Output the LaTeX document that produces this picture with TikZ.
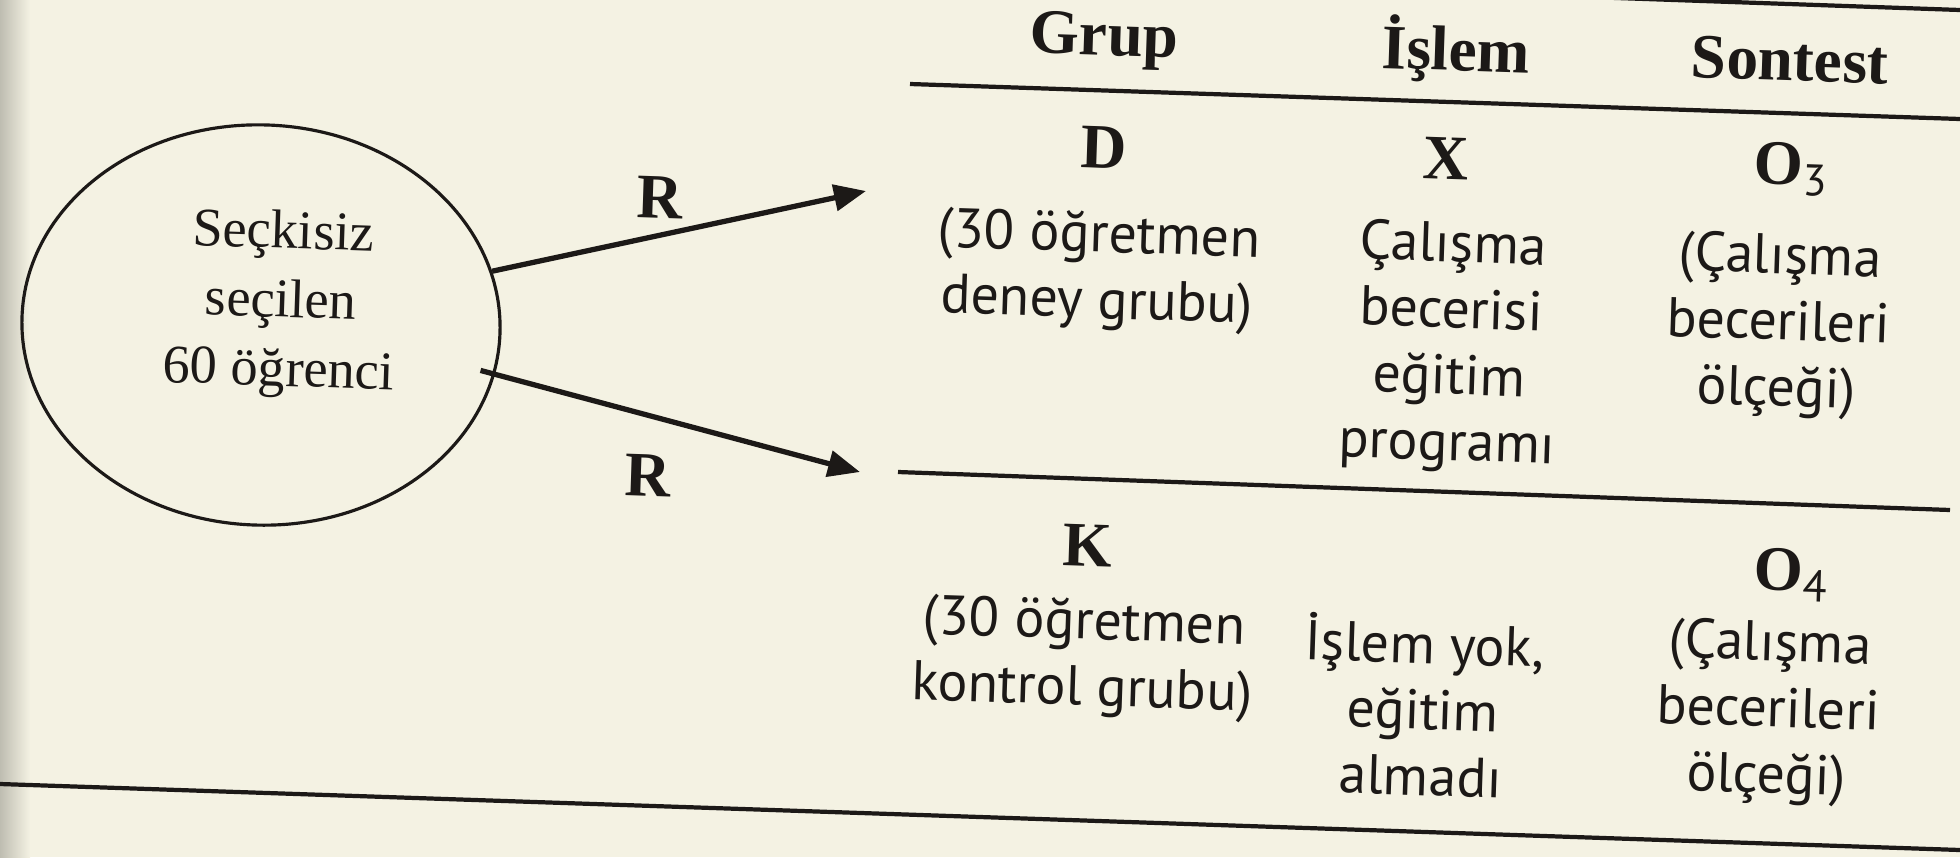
\documentclass[tikz,border=0pt]{standalone}
\usepackage{fontspec}
\setmainfont{Liberation Serif}
\newfontfamily\bodyfont{PT Sans}
\usetikzlibrary{shapes.geometric,arrows.meta}
\definecolor{paper}{HTML}{F4F2E3}
\definecolor{ink}{HTML}{1C1917}

\begin{document}
\begin{tikzpicture}[x=0.01cm,y=-0.01cm,
  every node/.style={text=ink, inner sep=0pt, rotate=-1.9},
  head/.style={font=\fontsize{18}{20}\selectfont\bfseries},
  sym/.style={font=\fontsize{18}{20}\selectfont\bfseries},
  pooltext/.style={font=\fontsize{15.5}{19.6}\selectfont, align=center},
  cell/.style={font=\bodyfont\fontsize{15.9}{18.8}\selectfont, align=center},
  rule/.style={draw=ink, line width=1.2pt},
  flow/.style={draw=ink, line width=1.5pt, -{Triangle[length=0.32cm,width=0.26cm]}},
]
\useasboundingbox (0,0) rectangle (1960,857);
\fill[paper] (0,0) rectangle (1960,857);
\shade[left color=black!22!paper, right color=paper] (0,0) rectangle (30,857);

% sample pool
\node[draw=ink, line width=0.9pt, ellipse, minimum width=4.78cm, minimum height=4.0cm] (pool) at (261,325) {};
\node[pooltext] (pooltxt) at (281,304) {Seçkisiz\\seçilen\\60 öğrenci};

% random assignment arrows
\coordinate (toD) at (866,191);
\coordinate (toK) at (860,472);
\draw[flow] (pool.15) -- (toD);
\draw[flow, shorten <=-0.15cm] (pool.-10) -- (toK);
\node[sym] (r1) at (660,198) {R};
\node[sym] (r2) at (648,476) {R};

% table rules
\draw[rule] (1560,-4) -- (1960,10);
\draw[rule] (910,84) -- (1960,119);
\draw[rule] (898,472) -- (1950,510);
\draw[rule] (0,784) -- (1960,850);

% header
\node[head] (hGrup) at (1104,41) {Grup};
\node[head] (hIslem) at (1456,50) {İşlem};
\node[head] (hSon) at (1790,60) {Sontest};

% experimental group
\node[sym] (D) at (1104,148) {D};
\node[sym] (X) at (1446,159) {X};
\node[sym] (O3) at (1792,169) {O\textsubscript{\bodyfont\mdseries 3}};
\node[cell] (dGrp) at (1098,271) {(30 öğretmen\\deney grubu)};
\node[cell] (dIs) at (1450,347) {Çalışma\\becerisi\\eğitim\\programı};
\node[cell] (dSon) at (1778,326) {(Çalışma\\becerileri\\ölçeği)};

% control group
\node[sym] (K) at (1088,546) {K};
\node[sym] (O4) at (1792,575) {O\textsubscript{\bodyfont\mdseries 4}};
\node[cell] (kGrp) at (1083,658) {(30 öğretmen\\kontrol grubu)};
\node[cell] (kIs) at (1423,706) {İşlem yok,\\eğitim\\almadı};
\node[cell] (kSon) at (1768,713) {(Çalışma\\becerileri\\ölçeği)};
\end{tikzpicture}
\end{document}
